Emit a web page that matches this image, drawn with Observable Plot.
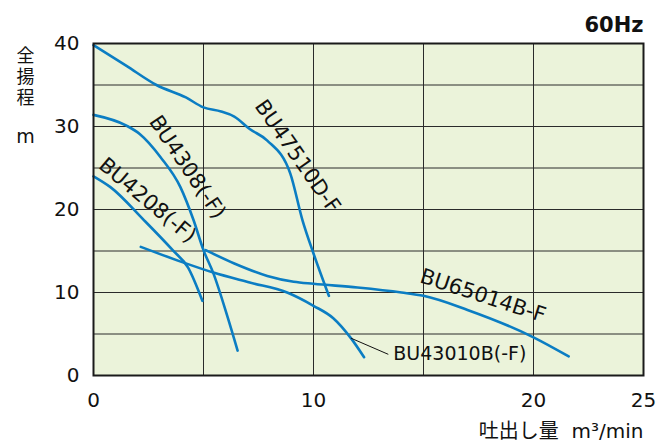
<!DOCTYPE html>
<html>
<head>
<meta charset="utf-8">
<script src="https://cdn.jsdelivr.net/npm/d3@7"></script>
<script src="https://cdn.jsdelivr.net/npm/@observablehq/plot@0.6"></script>
<style>
  html, body { margin: 0; padding: 0; background: #fff; }
</style>
</head>
<body>
<div id="chart"></div>
<script>
// ---- data ----
const xTicks = [0, 10, 20, 25];
const yTicks = [0, 10, 20, 30, 40];
const xGrid = [5, 10, 15, 20];
const yGrid = [5, 10, 15, 20, 25, 30, 35];

const bu47510_x = [0, 1.5, 2.86, 4.2, 5, 5.8, 6.4, 7.1, 7.9, 8.95, 9.5, 10, 10.7];
const bu47510_y = [39.8, 37.3, 35.0, 33.5, 32.3, 31.8, 31.2, 29.7, 28.3, 24.3, 18.7, 14.7, 9.6];

const bu4308_x = [0, 1.5, 2.1, 3.05, 3.95, 4.55, 5, 5.45, 6.1, 6.55];
const bu4308_y = [31.4, 30.1, 29.1, 26.3, 22.7, 18.7, 15.1, 12.3, 7.0, 3.0];

const bu4208_x = [0, 0.77, 2.3, 3.6, 4.3, 4.95];
const bu4208_y = [24, 22.7, 18.7, 15.1, 13.0, 9.0];

const bu43010_x = [2.15, 4.1, 5.45, 7.1, 8.8, 10, 10.9, 11.7, 12.3];
const bu43010_y = [15.5, 13.6, 12.4, 11.2, 10.0, 8.4, 6.9, 4.5, 2.2];

const bu65014_x = [5.1, 6.4, 7.9, 9.1, 10, 12, 14, 15, 17, 20, 21.6];
const bu65014_y = [15.1, 13.5, 12.0, 11.3, 11.05, 10.6, 10.0, 9.6, 7.9, 4.6, 2.3];

// curve labels
const labelText = ["BU47510D-F", "BU4308(-F)", "BU4208(-F)", "BU65014B-F"];
const labelX = [9.27, 4.27, 2.45, 17.7];
const labelY = [26.4, 25.1, 21.1, 9.6];
const labelAngle = [55, 56, 40, 18];

// callout
const calloutText = "BU43010B(-F)";
const calloutFrom = [11.7, 4.5];
const calloutTo = [13.4, 2.55];

const yTitle = "全揚程";
const yUnit = "m";
const xTitle = "吐出し量  m³/min";
const title = "60Hz";

const toRows = (xs, ys, name) => xs.map((x, i) => ({x, y: ys[i], name}));
const curves = [
  toRows(bu47510_x, bu47510_y, "BU47510D-F"),
  toRows(bu4308_x, bu4308_y, "BU4308(-F)"),
  toRows(bu4208_x, bu4208_y, "BU4208(-F)"),
  toRows(bu43010_x, bu43010_y, "BU43010B(-F)"),
  toRows(bu65014_x, bu65014_y, "BU65014B-F")
];
const labels = labelText.map((t, i) => ({t, x: labelX[i], y: labelY[i], r: labelAngle[i]}));

const blue = "#0b7dc3";
const latin = "'DejaVu Sans', 'Noto Sans CJK JP', sans-serif";
const cjk = "'Noto Sans CJK JP', sans-serif";

const marks = [
  Plot.frame({fill: "#ebf3da", stroke: null}),
  Plot.ruleX(xGrid, {stroke: "#2a2a2a", strokeWidth: 1}),
  Plot.ruleY(yGrid, {stroke: "#2a2a2a", strokeWidth: 1}),
  ...curves.map(c => Plot.line(c, {x: "x", y: "y", stroke: blue, strokeWidth: 2.6, curve: "monotone-x"})),
  Plot.frame({stroke: "#1a1a1a", strokeWidth: 2}),
  ...labels.map(l => Plot.text([l], {x: "x", y: "y", text: "t", rotate: l.r, fontSize: 21, fill: "#111", fontFamily: latin})),
  Plot.link([{}], {x1: () => calloutFrom[0], y1: () => calloutFrom[1], x2: () => calloutTo[0], y2: () => calloutTo[1], stroke: "#111", strokeWidth: 1}),
  Plot.text([calloutText], {x: () => calloutTo[0], y: () => calloutTo[1], text: d => d, textAnchor: "start", dx: 5, fontSize: 19, fill: "#111", fontFamily: latin}),
  // titles
  Plot.text([title], {frameAnchor: "top-right", text: d => d, dy: -26, textAnchor: "end", fontSize: 21, fontWeight: "bold", fill: "#111", fontFamily: latin}),
  Plot.text([yTitle], {frameAnchor: "top-left", text: d => d, dx: -68, dy: -10, textAnchor: "start", fontSize: 18, fill: "#111", fontFamily: cjk}),
  Plot.text([yUnit], {frameAnchor: "top-left", text: d => d, dx: -68, dy: 93, textAnchor: "middle", lineAnchor: "middle", fontSize: 19, fill: "#111", fontFamily: latin}),
  Plot.text([xTitle], {frameAnchor: "bottom-right", text: d => d, dx: 0, dy: 56, textAnchor: "end", lineAnchor: "middle", fontSize: 20, fill: "#111", fontFamily: latin})
];

const chart = Plot.plot({
  width: 672,
  height: 443,
  marginLeft: 93,
  marginRight: 29,
  marginTop: 43,
  marginBottom: 68,
  style: {fontFamily: latin, fontSize: "20px", color: "#111", background: "#fff", overflow: "visible"},
  x: {domain: [0, 25], ticks: xTicks, tickSize: 0, tickPadding: 17, label: null},
  y: {domain: [0, 40], ticks: yTicks, tickSize: 0, tickPadding: 14, label: null},
  marks
});
// stack the vertical axis title top-to-bottom
d3.select(chart).selectAll("text")
  .filter(function () { return this.textContent === yTitle; })
  .attr("writing-mode", "vertical-rl")
  .attr("dy", null)
  .style("letter-spacing", "3px");
document.getElementById("chart").appendChild(chart);
</script>
</body>
</html>
